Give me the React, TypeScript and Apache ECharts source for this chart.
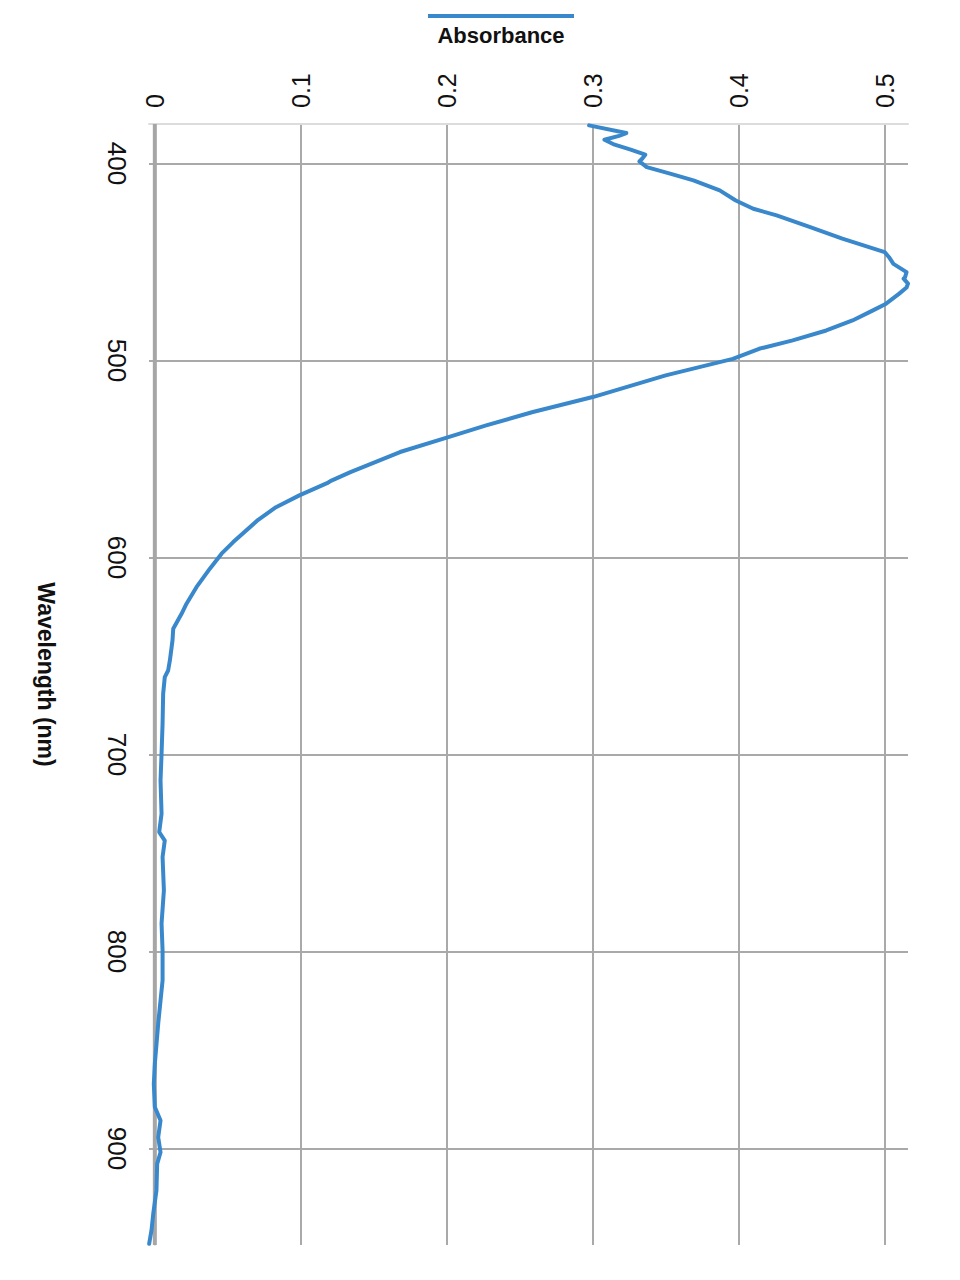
import React, { useEffect, useRef } from "react";
import * as echarts from "echarts";

// Wavelength (nm) and absorbance
const wavelengths = [
  380.7, 384.6, 386, 388, 390.5, 393, 395.6, 397.5, 399, 401.9, 405.2, 408.6, 413.7, 418.8,
  423, 426.4, 432.3, 438.2, 445, 447.6, 451, 455.2, 457.7, 458.5, 461, 463, 466.1, 471.2,
  474.6, 479.7, 484.8, 489.8, 494.1, 499.2, 507.6, 518.6, 526.2, 533, 539.2, 546.5, 556.7,
  561, 562.3, 568.5, 574.5, 580.9, 592.2, 598.1, 605.7, 615.1, 623.5, 628.6, 636.2, 642.1,
  652.3, 657.4, 660.8, 669.2, 684.3, 699.7, 713.2, 730.1, 739.4, 743.7, 752.1, 769, 785.9,
  799.5, 814.7, 836.7, 857, 867.2, 879, 885.8, 894.3, 901.9, 907.8, 921.3, 933.2, 941.6, 948.4,
];
const absorbance = [
  0.2975, 0.323, 0.318, 0.308, 0.315, 0.326, 0.336, 0.334, 0.332, 0.337, 0.353, 0.369, 0.387,
  0.398, 0.41, 0.426, 0.449, 0.471, 0.5, 0.503, 0.506, 0.515, 0.514, 0.513, 0.516, 0.515, 0.51,
  0.501, 0.492, 0.478, 0.46, 0.437, 0.414, 0.396, 0.35, 0.3, 0.259, 0.227, 0.2, 0.168, 0.134,
  0.121, 0.118, 0.099, 0.083, 0.0708, 0.0537, 0.0457, 0.0377, 0.0285, 0.0217, 0.0183, 0.0126,
  0.0121, 0.0103, 0.0091, 0.0068, 0.0057, 0.0053, 0.0046, 0.0039, 0.0046, 0.003, 0.0068,
  0.0053, 0.0062, 0.0046, 0.0053, 0.0053, 0.0023, 0.0, -0.0007, 0.0, 0.0039, 0.0023, 0.0039,
  0.0016, 0.0011, -0.0011, -0.0023, -0.0039,
];
const wavelengthRange = [380, 949];
const absorbanceRange = [-0.004, 0.516];
const seriesName = "Absorbance";
const axisTitle = "Wavelength (nm)";

const FONT = "'Liberation Sans', Arial, Helvetica, sans-serif";
const LINE_COLOR = "#3a88cc";
const GRID_COLOR = "#a9a9a9";

export default function App() {
  const ref = useRef<HTMLDivElement>(null);

  useEffect(() => {
    if (!ref.current) return;
    const chart = echarts.init(ref.current, undefined, { renderer: "svg" });
    const data = wavelengths.map((w, i) => [absorbance[i], w]);
    const zeroLine = [
      [0, wavelengthRange[0]],
      [0, wavelengthRange[1]],
    ];
    chart.setOption({
      animation: false,
      backgroundColor: "#ffffff",
      textStyle: { fontFamily: FONT },
      grid: { left: 149, top: 124, right: 52, bottom: 35, containLabel: false },
      xAxis: {
        type: "value",
        position: "top",
        min: absorbanceRange[0],
        max: absorbanceRange[1],
        splitNumber: 5,
        axisLine: { show: true, lineStyle: { color: "#dcdcdc", width: 2 } },
        axisTick: { show: false },
        axisLabel: {
          rotate: -90,
          fontSize: 25,
          color: "#111111",
          margin: 16,
          fontFamily: FONT,
          showMinLabel: false,
          showMaxLabel: false,
        },
        splitLine: {
          show: true,
          showMinLine: false,
          showMaxLine: false,
          lineStyle: { color: GRID_COLOR, width: 2 },
        },
      },
      yAxis: {
        type: "value",
        inverse: true,
        position: "left",
        min: wavelengthRange[0],
        max: wavelengthRange[1],
        splitNumber: 6,
        name: axisTitle,
        nameLocation: "middle",
        nameRotate: -90,
        nameGap: 92,
        nameTextStyle: {
          fontSize: 23,
          fontWeight: "bold",
          color: "#111111",
          fontFamily: FONT,
          padding: [0, 20, 0, 0],
        },
        axisLine: { show: true, lineStyle: { color: "#dcdcdc", width: 2 } },
        axisTick: { show: false },
        axisLabel: {
          rotate: -90,
          fontSize: 26,
          color: "#111111",
          margin: 19,
          fontFamily: FONT,
          showMinLabel: false,
          showMaxLabel: false,
        },
        splitLine: {
          show: true,
          showMinLine: false,
          showMaxLine: false,
          lineStyle: { color: GRID_COLOR, width: 2 },
        },
      },
      series: [
        {
          name: "zero",
          type: "line",
          data: zeroLine,
          symbol: "none",
          silent: true,
          z: 1,
          lineStyle: { color: "#a6a6a6", width: 4 },
        },
        {
          name: seriesName,
          type: "line",
          data,
          symbol: "none",
          clip: false,
          z: 3,
          lineStyle: { color: LINE_COLOR, width: 4, join: "round", cap: "round" },
        },
      ],
      graphic: [
        {
          type: "rect",
          left: 428,
          top: 14,
          shape: { width: 146, height: 4 },
          style: { fill: LINE_COLOR },
        },
        {
          type: "text",
          x: 501,
          y: 35,
          style: {
            text: seriesName,
            fontSize: 22,
            fontWeight: "bold",
            fontFamily: FONT,
            fill: "#111111",
            align: "center",
            verticalAlign: "middle",
          },
        },
      ],
    });
    return () => chart.dispose();
  }, []);

  return (
    <div
      ref={ref}
      style={{ position: "fixed", left: 0, top: 0, width: 960, height: 1280 }}
    />
  );
}
